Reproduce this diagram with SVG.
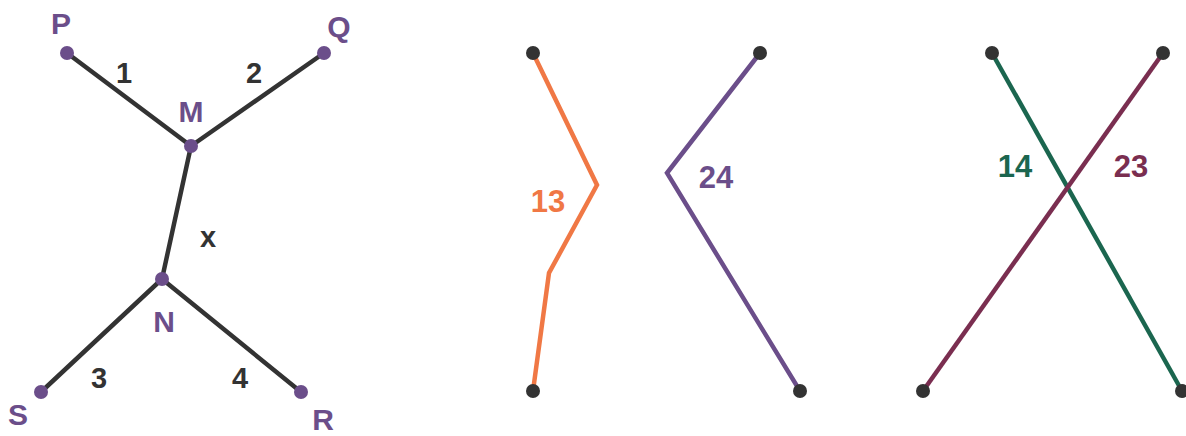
<svg xmlns="http://www.w3.org/2000/svg" width="1186" height="436" viewBox="0 0 1186 436">
<style>
text{font-family:"Liberation Sans",Arial,sans-serif;font-weight:bold;}
.lbl{fill:#6B4E8A;font-size:30px;}
.num{fill:#333333;font-size:29px;}
.big{font-size:31px;}
.edge{stroke:#333333;stroke-width:4.5;fill:none;stroke-linecap:round;}
.pd{fill:#6B4E8A;}
.dd{fill:#333333;}
</style>
<rect width="1186" height="436" fill="#ffffff"/>
<g id="connectors">
<line class="edge" x1="67" y1="53" x2="191" y2="146"/>
<line class="edge" x1="324" y1="53" x2="191" y2="146"/>
<line class="edge" x1="191" y1="146" x2="162" y2="279"/>
<line class="edge" x1="162" y1="279" x2="41" y2="392"/>
<line class="edge" x1="162" y1="279" x2="301" y2="392"/>
<polyline points="533,53 597,185 549,273 533,391" fill="none" stroke="#F07845" stroke-width="4.5" stroke-linejoin="miter"/>
<polyline points="760,53 667,173 800,391" fill="none" stroke="#6B4E8A" stroke-width="4.5"/>
<line x1="992" y1="53" x2="1182" y2="391" stroke="#1B664F" stroke-width="4.5"/>
<line x1="1163" y1="53" x2="923" y2="391" stroke="#7A2E50" stroke-width="4.5"/>
</g>
<g id="edge-labels">
<text class="num" x="124" y="83" text-anchor="middle">1</text>
<text class="num" x="254" y="83" text-anchor="middle">2</text>
<text class="num" x="208" y="247" text-anchor="middle">x</text>
<text class="num" x="99" y="388" text-anchor="middle">3</text>
<text class="num" x="240" y="388" text-anchor="middle">4</text>
<text class="big" x="548" y="212" text-anchor="middle" fill="#F07845">13</text>
<text class="big" x="716" y="188" text-anchor="middle" fill="#6B4E8A">24</text>
<text class="big" x="1015" y="177" text-anchor="middle" fill="#1B664F">14</text>
<text class="big" x="1131" y="177" text-anchor="middle" fill="#7A2E50">23</text>
</g>
<g id="node-P"><circle class="pd" cx="67" cy="53" r="7"/><text class="lbl" x="61" y="34" text-anchor="middle">P</text></g>
<g id="node-Q"><circle class="pd" cx="324" cy="53" r="7"/><text class="lbl" x="339" y="37" text-anchor="middle">Q</text></g>
<g id="node-M"><circle class="pd" cx="191" cy="146" r="7"/><text class="lbl" x="191" y="122" text-anchor="middle">M</text></g>
<g id="node-N"><circle class="pd" cx="162" cy="279" r="7"/><text class="lbl" x="164" y="332" text-anchor="middle">N</text></g>
<g id="node-S"><circle class="pd" cx="41" cy="392" r="7"/><text class="lbl" x="18" y="425" text-anchor="middle">S</text></g>
<g id="node-R"><circle class="pd" cx="301" cy="392" r="7"/><text class="lbl" x="323" y="430" text-anchor="middle">R</text></g>
<g id="node-a1"><circle class="dd" cx="533" cy="53" r="7"/></g>
<g id="node-a2"><circle class="dd" cx="533" cy="391" r="7"/></g>
<g id="node-a3"><circle class="dd" cx="760" cy="53" r="7"/></g>
<g id="node-a4"><circle class="dd" cx="800" cy="391" r="7"/></g>
<g id="node-b1"><circle class="dd" cx="992" cy="53" r="7"/></g>
<g id="node-b2"><circle class="dd" cx="1163" cy="53" r="7"/></g>
<g id="node-b3"><circle class="dd" cx="923" cy="391" r="7"/></g>
<g id="node-b4"><circle class="dd" cx="1182" cy="391" r="7"/></g>
</svg>
